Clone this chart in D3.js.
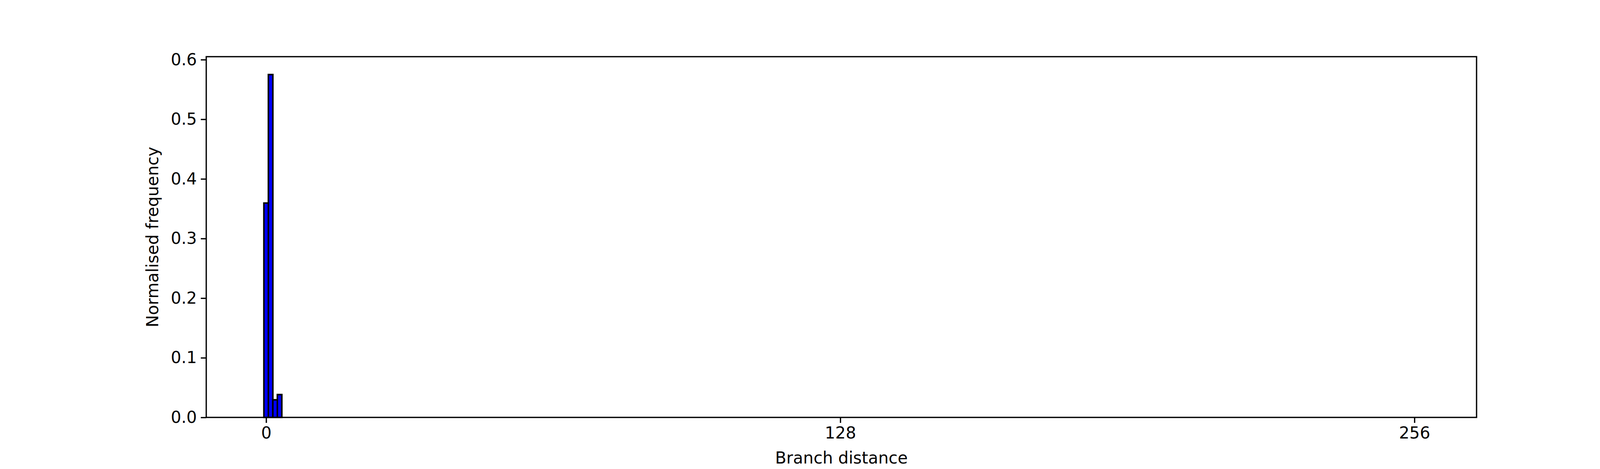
<!DOCTYPE html>
<html>
<head>
<meta charset="utf-8">
<script src="https://cdn.jsdelivr.net/npm/d3@7"></script>
<style>
  body { margin: 0; background: #fff; }
  text { font-family: "DejaVu Sans", sans-serif; }
</style>
</head>
<body>
<div id="chart"></div>
<script>
// branch distance bins 0..256, normalised frequency
const distances = d3.range(0, 257)
const nonZero = [0.3595, 0.575, 0.0295, 0.0383]
const frequencies = distances.map(d => d < nonZero.length ? nonZero[d] : 0)
const xTicks = [0, 128, 256]
const yTicks = [0, 0.1, 0.2, 0.3, 0.4, 0.5, 0.6]

const w = 4200, h = 1200
const margin = { left: 528, right: 420, top: 145, bottom: 132 }

const svg = d3.select('#chart').append('svg')
    .attr('width', w).attr('height', h)

const x = d3.scaleLinear()
    .domain([-13.35, 269.85])
    .range([margin.left, w - margin.right])
const y = d3.scaleLinear()
    .domain([0, 0.605])
    .range([h - margin.bottom, margin.top])

svg.selectAll('rect.bar')
    .data(distances)
    .enter()
    .append('rect')
    .attr('class', 'bar')
    .attr('x', d => x(d - 0.5))
    .attr('width', d => x(d + 0.5) - x(d - 0.5))
    .attr('y', d => y(frequencies[d]))
    .attr('height', d => y(0) - y(frequencies[d]))
    .attr('fill', '#0000ff')
    .attr('stroke', 'black')
    .attr('stroke-width', 4)

const xAxis = svg.append('g')
    .attr('transform', `translate(0,${h - margin.bottom})`)
    .call(d3.axisBottom(x).tickValues(xTicks).tickSize(14).tickPadding(10).tickFormat(d3.format('d')))
const yAxis = svg.append('g')
    .attr('transform', `translate(${margin.left},0)`)
    .call(d3.axisLeft(y).tickValues(yTicks).tickSize(14).tickPadding(10).tickFormat(d3.format('.1f')))

;[xAxis, yAxis].forEach(g => {
    g.select('.domain').remove()
    g.selectAll('line').attr('stroke-width', 3.3)
    g.selectAll('text').attr('font-size', 42).attr('font-family', 'DejaVu Sans').attr('fill', 'black')
})

svg.append('rect')
    .attr('x', margin.left).attr('y', margin.top)
    .attr('width', w - margin.right - margin.left)
    .attr('height', h - margin.bottom - margin.top)
    .attr('fill', 'none').attr('stroke', 'black').attr('stroke-width', 3.3)

svg.append('text')
    .attr('x', (margin.left + w - margin.right) / 2)
    .attr('y', 1186)
    .attr('text-anchor', 'middle')
    .attr('font-size', 42)
    .text('Branch distance')

svg.append('text')
    .attr('transform', `translate(405,${(margin.top + h - margin.bottom) / 2}) rotate(-90)`)
    .attr('text-anchor', 'middle')
    .attr('font-size', 42)
    .text('Normalised frequency')
</script>
</body>
</html>
